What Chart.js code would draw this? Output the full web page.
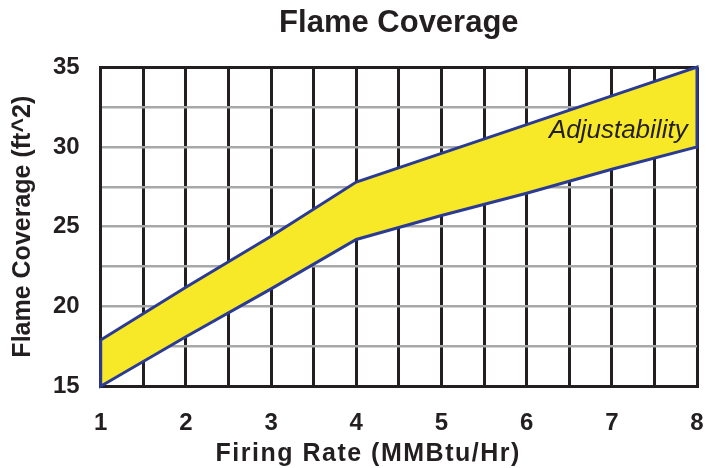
<!DOCTYPE html>
<html>
<head>
<meta charset="utf-8">
<title>Flame Coverage</title>
<script src="https://cdn.jsdelivr.net/npm/chart.js@4.4.1/dist/chart.umd.min.js"></script>
<style>
  html, body { margin: 0; padding: 0; background: #fff; }
</style>
</head>
<body>
<canvas id="flameChart" width="709" height="468"></canvas>
<script>
// values
const firingRate = [1, 2, 3, 4, 5, 6, 7, 8];
const coverageMax = [17.9, 21.2, 24.4, 27.8, 29.6, 31.4, 33.2, 35];
const coverageMin = [15, 18.1, 21.1, 24.2, 25.7, 27.1, 28.6, 30];
const xTickLabels = [1, 2, 3, 4, 5, 6, 7, 8];
const yTickLabels = [15, 20, 25, 30, 35];

const INK = '#231f20';
const GRID_GREY = '#a7a8aa';
const FONT = '"Liberation Sans", Arial, Helvetica, sans-serif';

Chart.defaults.font.family = FONT;
Chart.defaults.color = INK;

// closed outline: top edge left to right, bottom edge right to left
const band = firingRate.map((x, i) => ({ x: x, y: coverageMax[i] }))
    .concat(firingRate.map((x, i) => ({ x: x, y: coverageMin[i] })).reverse());
band.push(band[0]);

const bandLabel = {
    id: 'bandLabel',
    afterDatasetsDraw(chart) {
        const { ctx, scales: { x, y } } = chart;
        ctx.save();
        ctx.font = 'italic 26px ' + FONT;
        ctx.fillStyle = INK;
        ctx.textAlign = 'right';
        ctx.textBaseline = 'middle';
        ctx.fillText('Adjustability', x.getPixelForValue(7.89), y.getPixelForValue(31.0));
        ctx.restore();
    }
};

// x axis title is letter-spaced and sits a little left of the plot centre
const xTitle = {
    id: 'xTitle',
    afterDraw(chart) {
        const { ctx, scales: { x } } = chart;
        ctx.save();
        ctx.font = 'bold 25px ' + FONT;
        ctx.fillStyle = INK;
        ctx.textAlign = 'center';
        ctx.textBaseline = 'alphabetic';
        if ('letterSpacing' in ctx) ctx.letterSpacing = '1.5px';
        ctx.fillText('Firing Rate (MMBtu/Hr)', x.getPixelForValue(4.14), 461);
        ctx.restore();
    }
};

new Chart(document.getElementById('flameChart'), {
    type: 'scatter',
    data: {
        datasets: [{
            label: 'Adjustability',
            data: band,
            showLine: true,
            fill: 'shape',
            backgroundColor: '#f7e928',
            borderColor: '#2b3b94',
            borderWidth: 3,
            borderJoinStyle: 'miter',
            pointRadius: 0,
            pointHoverRadius: 0,
            tension: 0,
            clip: false
        }]
    },
    options: {
        responsive: false,
        animation: false,
        events: [],
        layout: { padding: { left: 4, right: 12, top: 0, bottom: 30 } },
        plugins: {
            legend: { display: false },
            tooltip: { enabled: false },
            title: {
                display: true,
                text: 'Flame Coverage',
                fullSize: false,
                color: INK,
                font: { size: 31, weight: 'bold' },
                padding: { top: 5, bottom: 25 }
            }
        },
        scales: {
            x: {
                type: 'linear',
                min: 1,
                max: 8,
                ticks: {
                    stepSize: 0.5,
                    autoSkip: false,
                    maxRotation: 0,
                    padding: 0,
                    color: INK,
                    font: { size: 24, weight: 'bold' },
                    callback: v => xTickLabels.includes(v) ? String(v) : ''
                },
                // invisible tick marks give the gap between axis and labels
                grid: { color: INK, lineWidth: 3, tickLength: 23, tickColor: 'rgba(0,0,0,0)' },
                border: { color: INK, width: 3 }
            },
            y: {
                type: 'linear',
                min: 15,
                max: 35,
                ticks: {
                    stepSize: 2.5,
                    autoSkip: false,
                    padding: 0,
                    color: INK,
                    font: { size: 24, weight: 'bold' },
                    callback: v => yTickLabels.includes(v) ? String(v) : ''
                },
                grid: {
                    tickLength: 21,
                    tickColor: 'rgba(0,0,0,0)',
                    color: c => (c.tick && c.tick.value === 35) ? INK : GRID_GREY,
                    lineWidth: c => (c.tick && c.tick.value === 35) ? 3 : 2.5
                },
                border: { color: INK, width: 3 },
                title: {
                    display: true,
                    text: 'Flame Coverage (ft^2)',
                    color: INK,
                    font: { size: 25, weight: 'bold' },
                    padding: { top: 4, bottom: 15 }
                }
            }
        }
    },
    plugins: [bandLabel, xTitle]
});
</script>
</body>
</html>
